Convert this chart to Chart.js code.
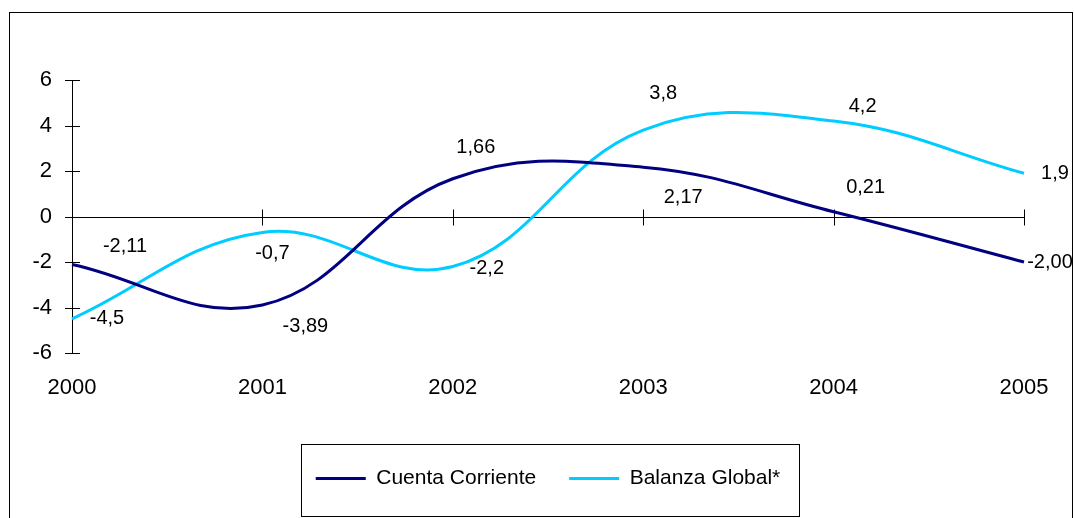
<!DOCTYPE html>
<html>
<head>
<meta charset="utf-8">
<script src="https://cdn.jsdelivr.net/npm/chart.js@4/dist/chart.umd.min.js"></script>
<style>
  html, body { margin: 0; padding: 0; background: #fff; }
  #wrap { width: 1074px; height: 518px; position: relative; }
</style>
</head>
<body>
<div id="wrap"><canvas id="balanzaChart"></canvas></div>
<script>
const years = ["2000", "2001", "2002", "2003", "2004", "2005"];
const cuentaCorriente = [-2.11, -3.89, 1.66, 2.17, 0.21, -2.0];
const balanzaGlobal = [-4.5, -0.7, -2.2, 3.8, 4.2, 1.9];
const yTicks = [-6, -4, -2, 0, 2, 4, 6];

// where each value label sits relative to its point (like the excel sheet)
const cuentaLabelShift = [[53, -18], [43, 21], [23, -31], [40, 30], [32, -24], [26, 0]];
const balanzaLabelShift = [[35, 0], [10, 21], [34, 2], [20, -37], [29, -14], [31, 0]];

const FONT = "'Liberation Sans', Arial, sans-serif";

const axesPlugin = {
  id: "axesPlugin",
  beforeDatasetsDraw(chart) {
    const { ctx, chartArea, scales } = chart;
    const x = scales.x, y = scales.y;
    ctx.save();
    ctx.strokeStyle = "#000";
    ctx.lineWidth = 1;
    ctx.beginPath();
    const ax = Math.round(chartArea.left) + 0.5;
    ctx.moveTo(ax, y.getPixelForValue(6));
    ctx.lineTo(ax, y.getPixelForValue(-6));
    yTicks.forEach(v => {
      const py = Math.round(y.getPixelForValue(v)) + 0.5;
      ctx.moveTo(ax - 7.5, py);
      ctx.lineTo(ax + 7.5, py);
    });
    const zy = Math.round(y.getPixelForValue(0)) + 0.5;
    ctx.moveTo(chartArea.left, zy);
    ctx.lineTo(chartArea.right, zy);
    years.forEach((yr, i) => {
      if (i === 0) return;
      const px = Math.round(x.getPixelForValue(i)) + 0.5;
      ctx.moveTo(px, zy - 8);
      ctx.lineTo(px, zy + 8);
    });
    ctx.stroke();
    ctx.restore();
  },
  afterDatasetsDraw(chart) {
    const { ctx } = chart;
    ctx.save();
    ctx.font = "20px " + FONT;
    ctx.fillStyle = "#000";
    ctx.textAlign = "center";
    ctx.textBaseline = "middle";
    const sets = [
      { idx: 0, dec: 2, shift: cuentaLabelShift },
      { idx: 1, dec: 1, shift: balanzaLabelShift },
    ];
    sets.forEach(s => {
      const meta = chart.getDatasetMeta(s.idx);
      const vals = chart.data.datasets[s.idx].data;
      meta.data.forEach((pt, i) => {
        const txt = vals[i].toFixed(s.dec).replace(".", ",");
        ctx.fillText(txt, pt.x + s.shift[i][0], pt.y + s.shift[i][1]);
      });
    });
    ctx.restore();
  },
  afterDraw(chart) {
    const { ctx, legend } = chart;
    ctx.save();
    ctx.strokeStyle = "#000";
    ctx.lineWidth = 1;
    // outer chart frame
    ctx.strokeRect(9.5, 12.5, 1063, 520);
    // legend frame
    const hb = legend.legendHitBoxes;
    if (hb && hb.length) {
      const first = hb[0], last = hb[hb.length - 1];
      const left = Math.round(first.left - 15) + 0.5;
      const right = Math.round(last.left + last.width + 19) + 0.5;
      const mid = first.top + first.height / 2;
      const top = Math.round(mid - 35) + 0.5;
      ctx.strokeRect(left, top, right - left, 72);
    }
    ctx.restore();
  },
};

new Chart(document.getElementById("balanzaChart"), {
  type: "line",
  data: {
    labels: years,
    datasets: [
      {
        label: "Cuenta Corriente",
        data: cuentaCorriente,
        borderColor: "#000080",
        backgroundColor: "#000080",
        borderWidth: 3,
        pointRadius: 0,
        tension: 0.4,
        fill: false,
      },
      {
        label: "Balanza Global*",
        data: balanzaGlobal,
        borderColor: "#00CCFF",
        backgroundColor: "#00CCFF",
        borderWidth: 3,
        pointRadius: 0,
        tension: 0.4,
        fill: false,
      },
    ],
  },
  options: {
    responsive: true,
    maintainAspectRatio: false,
    animation: false,
    layout: { padding: { top: 80, left: 10, right: 50, bottom: 19 } },
    scales: {
      x: {
        offset: false,
        grid: { display: false, drawTicks: false },
        border: { display: false },
        ticks: {
          color: "#000",
          font: { size: 22, family: FONT },
          padding: 22,
          maxRotation: 0,
        },
        afterFit(scale) { scale.height = 82; },
      },
      y: {
        min: -6,
        max: 6,
        grid: { display: false, drawTicks: false },
        border: { display: false },
        ticks: {
          stepSize: 2,
          color: "#000",
          font: { size: 22, family: FONT },
          padding: 20,
        },
        afterFit(scale) { scale.width = 62; },
      },
    },
    plugins: {
      legend: {
        position: "bottom",
        fullSize: false,
        labels: {
          boxWidth: 50,
          boxHeight: 3,
          padding: 33,
          color: "#000",
          font: { size: 21, family: FONT },
          generateLabels(chart) {
            return chart.data.datasets.map((ds, i) => ({
              text: ds.label,
              fillStyle: ds.borderColor,
              strokeStyle: ds.borderColor,
              lineWidth: 0,
              hidden: false,
              datasetIndex: i,
            }));
          },
        },
      },
      tooltip: { enabled: false },
      title: { display: false },
    },
  },
  plugins: [axesPlugin],
});
</script>
</body>
</html>
